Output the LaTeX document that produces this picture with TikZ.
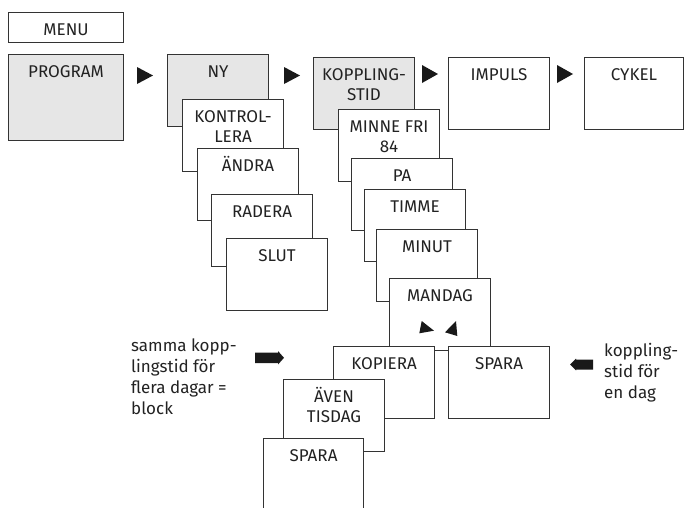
\documentclass[tikz,border=0pt]{standalone}
\usepackage{fontspec}
\newfontfamily\boxfont{Fira Sans}
\newcommand\myst{\rule{0pt}{16pt}}
\definecolor{lc}{HTML}{333333}
\definecolor{gf}{HTML}{E6E6E6}
\definecolor{tc}{HTML}{222222}
\tikzset{
  ttl/.style={anchor=north, inner sep=0pt, yshift=-7.5pt, align=center, text=tc,
    font={\boxfont\fontsize{17pt}{20pt}\selectfont}},
  box/.style={draw=lc, line width=1.1pt, fill=white, inner sep=0pt, anchor=north west,
    minimum width=101pt, minimum height=72pt, label={[ttl]north:\myst #1}},
  gbox/.style={box={#1}, fill=gf},
  side/.style={anchor=north west, inner sep=0pt, align=left, text=tc,
    font={\boxfont\fontsize{17pt}{21pt}\selectfont}},
  tri/.style={fill=black!90},
}
\begin{document}
\begin{tikzpicture}[x=1pt,y=-1pt]
\useasboundingbox (0,0) rectangle (684,507);
\clip (0,0) rectangle (684,507);

% top row
\node[box={MENU}, minimum width=115pt, minimum height=30pt] (menu) at (8,12) {};
\node[gbox={PROGRAM}, minimum width=115pt, minimum height=86pt] (prog) at (8,54) {};

% NY column
\node[gbox={NY}] (ny) at (167,54) {};
\node[box={KONTROL-\\LERA}] (kontr) at (182,99) {};
\node[box={ÄNDRA}] (andra) at (197,148) {};
\node[box={RADERA}] (radera) at (211,194) {};
\node[box={SLUT}] (slut) at (226,238) {};

% KOPPLINGSTID column
\node[gbox={KOPPLING-\\STID}] (kopp) at (313,57) {};
\node[box={IMPULS}] (impuls) at (448,57) {};
\node[box={CYKEL}, minimum width=99pt] (cykel) at (584,57) {};
\node[box={MINNE FRI\\84}] (minne) at (338,109) {};
\node[box={PA}] (pa) at (351,158) {};
\node[box={TIMME}] (timme) at (364,189) {};
\node[box={MINUT}] (minut) at (376,229) {};
\node[box={MANDAG}] (mandag) at (389,278) {};
\fill[tri] (421.7,321) -- (419.3,333.3) -- (434,330.7) -- cycle;
\fill[tri] (445,332.3) -- (456,321) -- (457.3,336) -- cycle;
\node[box={SPARA}] (spara1) at (448,346) {};
\node[box={KOPIERA}] (kopiera) at (333,346) {};
\node[box={ÄVEN\\TISDAG}] (aven) at (283,379) {};
\node[box={SPARA}, minimum width=100pt, minimum height=90pt] (spara2) at (263,438) {};

% menu arrows
\fill[tri] (137,67) -- (137,84) -- (153,75.5) -- cycle;
\fill[tri] (284,67) -- (284,84) -- (300,75.5) -- cycle;
\fill[tri] (422,65) -- (422,83) -- (438,74) -- cycle;
\fill[tri] (557,65) -- (557,83) -- (573,74) -- cycle;

% side notes
\node[side] (notel) at (131,335) {\myst samma kopp-\\lingstid för\\flera dagar =\\block};
\node[side] (noter) at (604,340) {\myst koppling-\\stid för\\en dag};
\fill[tri] (255,352.5) -- (278,352.5) -- (278,351) -- (284,357.8) -- (278,364.5) -- (278,363) -- (255,363) -- cycle;
\fill[tri] (593,359.5) -- (576,359.5) -- (576,358.5) -- (570,364.5) -- (576,370.5) -- (576,369.5) -- (593,369.5) -- cycle;
\end{tikzpicture}
\end{document}
